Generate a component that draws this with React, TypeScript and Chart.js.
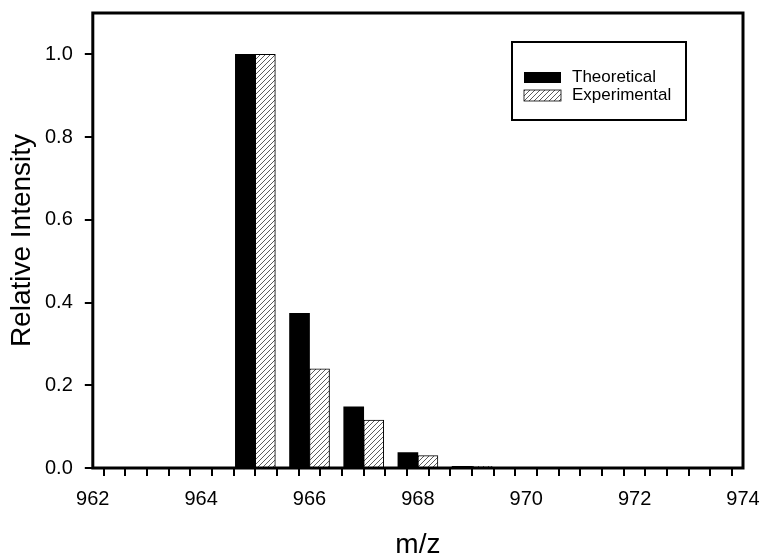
import React, { useEffect, useRef } from "react";
import { Chart, registerables } from "chart.js";

Chart.register(...registerables);

const mz = [965, 966, 967, 968, 969];
const theoretical = [1.0, 0.374, 0.148, 0.037, 0.004];
const experimental = [1.0, 0.240, 0.116, 0.030, 0.004];
const seriesNames = ["Theoretical", "Experimental"];
const xTitle = "m/z";
const yTitle = "Relative Intensity";

const FONT = "'Liberation Sans', Arial, Helvetica, sans-serif";

function makeHatch(): CanvasPattern | string {
  const c = document.createElement("canvas");
  const s = 5;
  c.width = s;
  c.height = s;
  const g = c.getContext("2d");
  if (!g) return "#fff";
  g.fillStyle = "#fff";
  g.fillRect(0, 0, s, s);
  g.strokeStyle = "#333";
  g.lineWidth = 0.8;
  g.beginPath();
  g.moveTo(0, s);
  g.lineTo(s, 0);
  g.moveTo(-1, 1);
  g.lineTo(1, -1);
  g.moveTo(s - 1, s + 1);
  g.lineTo(s + 1, s - 1);
  g.stroke();
  return g.createPattern(c, "repeat") || "#fff";
}

const framePlugin = {
  id: "frameAndLegend",
  afterDatasetsDraw(chart: any) {
    const { ctx, chartArea } = chart;
    ctx.save();
    ctx.strokeStyle = "#000";
    ctx.lineWidth = 3;
    ctx.strokeRect(chartArea.left, chartArea.top, chartArea.right - chartArea.left, chartArea.bottom - chartArea.top);
    // legend box
    const bx = 512, by = 42, bw = 174, bh = 78;
    ctx.fillStyle = "#fff";
    ctx.fillRect(bx, by, bw, bh);
    ctx.lineWidth = 2;
    ctx.strokeRect(bx, by, bw, bh);
    ctx.font = `17px ${FONT}`;
    ctx.textBaseline = "middle";
    chart.data.datasets.forEach((ds: any, i: number) => {
      const y = 72 + i * 18;
      ctx.fillStyle = ds.backgroundColor;
      ctx.fillRect(524, y, 37, 11);
      if (ds.borderWidth) {
        ctx.lineWidth = 0.8;
        ctx.strokeStyle = "#000";
        ctx.strokeRect(524, y, 37, 11);
      }
      ctx.fillStyle = "#000";
      ctx.fillText(ds.label, 572, y + 5.5);
    });
    ctx.restore();
  },
};

export default function App() {
  const ref = useRef<HTMLCanvasElement>(null);
  useEffect(() => {
    if (!ref.current) return;
    const hatch = makeHatch();
    const chart = new Chart(ref.current, {
      type: "bar",
      data: {
        datasets: [
          {
            label: seriesNames[0],
            data: mz.map((x, i) => ({ x, y: theoretical[i] })),
            backgroundColor: "#000",
            borderWidth: 0,
            barThickness: 20,
          },
          {
            label: seriesNames[1],
            data: mz.map((x, i) => ({ x, y: experimental[i] })),
            backgroundColor: hatch as any,
            borderColor: "#000",
            borderWidth: 1,
            barThickness: 20,
          },
        ],
      },
      options: {
        animation: false,
        responsive: false,
        maintainAspectRatio: false,
        layout: { padding: { top: 13, right: 23, left: 8, bottom: -5 } },
        plugins: { legend: { display: false }, tooltip: { enabled: false } },
        scales: {
          x: {
            type: "linear",
            min: 962,
            max: 974,
            offset: false,
            border: { display: false },
            afterFit: (scale: any) => {
              scale.paddingRight = 0;
            },
            grid: { drawOnChartArea: false, drawTicks: true, tickLength: 8, color: "#000", lineWidth: 2 },
            ticks: {
              stepSize: 0.4,
              autoSkip: false,
              maxTicksLimit: 200,
              maxRotation: 0,
              padding: 11,
              color: "#000",
              font: { size: 20, family: FONT },
              callback: (v: any) => {
                const n = Number(v);
                return Math.abs(n - Math.round(n / 2) * 2) < 1e-6 ? String(Math.round(n)) : "";
              },
            },
            title: { display: true, text: xTitle, color: "#000", font: { size: 28, family: FONT, lineHeight: 1.0 }, padding: { top: 9, bottom: 0 } },
          },
          y: {
            min: 0,
            max: 1.1,
            border: { display: false },
            afterBuildTicks: (scale: any) => {
              scale.ticks = scale.ticks.filter((t: any) => t.value <= 1.0001);
            },
            afterFit: (scale: any) => {
              scale.paddingTop = 0;
            },
            grid: { drawOnChartArea: false, drawTicks: true, tickLength: 8, color: "#000", lineWidth: 2 },
            ticks: {
              stepSize: 0.2,
              padding: 12,
              color: "#000",
              font: { size: 20, family: FONT },
              callback: (v: any) => Number(v).toFixed(1),
            },
            title: { display: true, text: yTitle, color: "#000", font: { size: 28, family: FONT, lineHeight: 1.0 }, padding: { top: 0, bottom: -3 } },
          },
        },
      },
      plugins: [framePlugin],
    });
    return () => chart.destroy();
  }, []);
  return (
    <div style={{ position: "fixed", left: 0, top: 0, width: 766, height: 554, background: "#fff" }}>
      <canvas ref={ref} width={766} height={554} style={{ width: 766, height: 554 }} />
    </div>
  );
}
